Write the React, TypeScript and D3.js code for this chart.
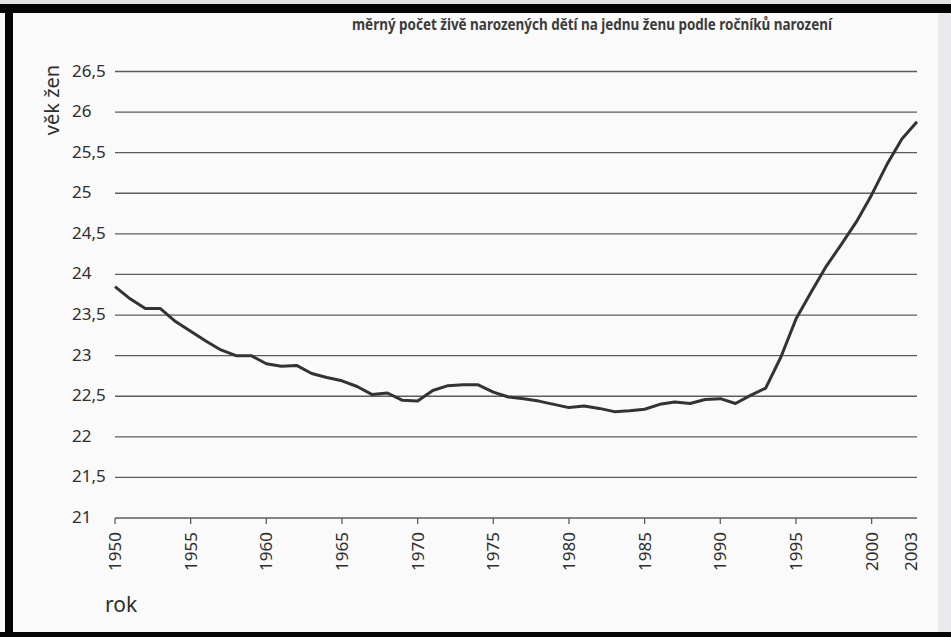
import * as d3 from "d3";
import { useEffect, useRef } from "react";

// roky a průměrný věk žen
const years = [
	1950, 1951, 1952, 1953, 1954, 1955, 1956, 1957, 1958, 1959,
	1960, 1961, 1962, 1963, 1964, 1965, 1966, 1967, 1968, 1969,
	1970, 1971, 1972, 1973, 1974, 1975, 1976, 1977, 1978, 1979,
	1980, 1981, 1982, 1983, 1984, 1985, 1986, 1987, 1988, 1989,
	1990, 1991, 1992, 1993, 1994, 1995, 1996, 1997, 1998, 1999,
	2000, 2001, 2002, 2003,
];
const ages = [
	23.85, 23.7, 23.58, 23.58, 23.42, 23.3, 23.18, 23.07, 23.0, 23.0,
	22.9, 22.87, 22.88, 22.78, 22.73, 22.69, 22.62, 22.52, 22.54, 22.45,
	22.44, 22.57, 22.63, 22.64, 22.64, 22.55, 22.49, 22.47, 22.44, 22.4,
	22.36, 22.38, 22.35, 22.31, 22.32, 22.34, 22.4, 22.43, 22.41, 22.46,
	22.47, 22.41, 22.51, 22.6, 22.98, 23.45, 23.78, 24.1, 24.37, 24.65,
	24.98, 25.35, 25.67, 25.88,
];
const yTicks = [21, 21.5, 22, 22.5, 23, 23.5, 24, 24.5, 25, 25.5, 26, 26.5];
const xTicks = [1950, 1955, 1960, 1965, 1970, 1975, 1980, 1985, 1990, 1995, 2000];
const xLabels = [...xTicks, 2003];
const topText = "měrný počet živě narozených dětí na jednu ženu podle ročníků narození";

const W = 951;
const H = 637;
const FONT = "'Noto Sans', 'Open Sans', sans-serif";

function App() {
	const ref = useRef<SVGSVGElement>(null);

	useEffect(() => {
		const svg = d3.select(ref.current);
		svg.selectAll("*").remove();

		const x = d3.scaleLinear().domain([1950, 2003]).range([115, 917]);
		const y = d3.scaleLinear().domain([21, 26.5]).range([518, 71.5]);

		// papír
		svg.append("rect").attr("width", W).attr("height", H).attr("fill", "#fafafa");
		svg.append("rect")
			.attr("x", 938)
			.attr("y", 0)
			.attr("width", W - 938)
			.attr("height", H)
			.attr("fill", "#e9e9ee");

		// text nahoře
		svg.append("text")
			.attr("x", 352)
			.attr("y", 30)
			.attr("textLength", 480)
			.attr("lengthAdjust", "spacingAndGlyphs")
			.style("font-family", FONT)
			.style("font-size", "16px")
			.style("font-weight", "bold")
			.style("fill", "#3c3c3c")
			.text(topText);

		// mřížka
		svg.append("g")
			.selectAll("line")
			.data(yTicks)
			.enter()
			.append("line")
			.attr("x1", x(1950))
			.attr("x2", x(2003))
			.attr("y1", (d) => y(d))
			.attr("y2", (d) => y(d))
			.attr("stroke", "#5c5c5c")
			.attr("stroke-width", 1.3);

		svg.append("g")
			.selectAll("text")
			.data(yTicks)
			.enter()
			.append("text")
			.attr("x", 72)
			.attr("y", (d) => y(d) + 5)
			.style("font-family", FONT)
			.style("font-size", "17px")
			.style("fill", "#2e2e2e")
			.text((d) => String(d).replace(".", ","));

		// osa x
		svg.append("g")
			.selectAll("line")
			.data(xTicks)
			.enter()
			.append("line")
			.attr("x1", (d) => x(d))
			.attr("x2", (d) => x(d))
			.attr("y1", y(21))
			.attr("y2", y(21) + 6)
			.attr("stroke", "#5c5c5c")
			.attr("stroke-width", 1.3);

		svg.append("g")
			.selectAll("text")
			.data(xLabels)
			.enter()
			.append("text")
			.attr("transform", (d) => {
				const px = d === 2003 ? x(d) - 6 : x(d);
				return "translate(" + (px + 6) + "," + 532 + ") rotate(-90)";
			})
			.attr("text-anchor", "end")
			.style("font-family", FONT)
			.style("font-size", "17px")
			.style("fill", "#2e2e2e")
			.text((d) => String(d));

		// popisky os
		svg.append("text")
			.attr("transform", "translate(59,100) rotate(-90)")
			.attr("text-anchor", "middle")
			.style("font-family", FONT)
			.style("font-size", "20px")
			.style("fill", "#2e2e2e")
			.text("věk žen");

		svg.append("text")
			.attr("x", 105)
			.attr("y", 612)
			.style("font-family", FONT)
			.style("font-size", "21px")
			.style("fill", "#2e2e2e")
			.text("rok");

		// křivka
		const line = d3
			.line<number>()
			.x((_, i) => x(years[i]))
			.y((d) => y(d));
		svg.append("path")
			.datum(ages)
			.attr("d", line)
			.attr("fill", "none")
			.attr("stroke", "#333333")
			.attr("stroke-width", 3)
			.attr("stroke-linejoin", "round");

		// černý rámeček (sken)
		svg.append("rect").attr("x", 0).attr("y", 0).attr("width", W).attr("height", 4).attr("fill", "#e4e4e4");
		svg.append("rect").attr("x", 0).attr("y", 4).attr("width", W).attr("height", 9).attr("fill", "#050505");
		svg.append("rect").attr("x", 5).attr("y", 4).attr("width", 8).attr("height", H).attr("fill", "#050505");
		svg.append("rect").attr("x", 0).attr("y", 632).attr("width", W).attr("height", 5).attr("fill", "#050505");
	}, []);

	return (
		<div style={{ position: "absolute", left: 0, top: 0 }}>
			<svg ref={ref} width={W} height={H} style={{ display: "block" }} />
		</div>
	);
}

export default App;
